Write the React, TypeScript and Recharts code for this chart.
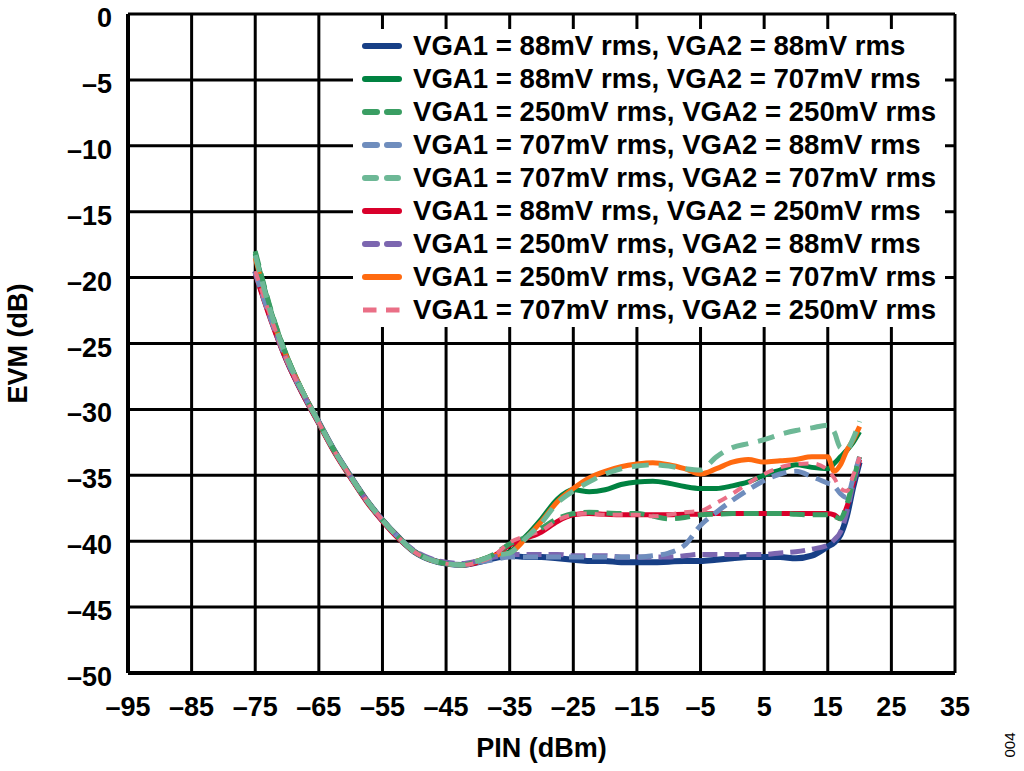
import React from "react";
import { CartesianGrid, Legend, Line, LineChart, XAxis, YAxis } from "recharts";

// PIN (dBm) sample points shared by every curve
const pin = [
  -75, -72.5, -70, -67.5, -65, -62.5, -60, -57.5, -55, -52.5, -50, -47.5, -45, -42.5, -40, -37.5,
  -35, -32.5, -30, -27.5, -25, -22.5, -20, -17.5, -15, -12.5, -10, -7.5, -5, -2.5, 0, 2.5, 5, 7.5,
  10, 12.5, 15, 16, 17, 18, 19, 20,
];

// EVM (dB)
const evm88_88 = [
  -19.5, -23.1, -26.3, -28.8, -31.0, -33.2, -35.1, -36.9, -38.4, -39.7, -40.8, -41.4, -41.7, -41.8, -41.6, -41.3,
  -41.1, -41.2, -41.2, -41.3, -41.4, -41.5, -41.5, -41.6, -41.6, -41.6, -41.55, -41.5, -41.5, -41.4, -41.3, -41.2, -41.2, -41.2,
  -41.3, -41.1, -40.4, -40.1, -39.5, -38.1, -35.9, -34.0,
];
const evm88_707 = [
  -18.2, -22.6, -26.0, -28.7, -31.0, -33.2, -35.1, -36.9, -38.4, -39.7, -40.8, -41.4, -41.7, -41.8, -41.5, -41.1,
  -40.8, -39.65, -38.3, -36.8, -36.1, -36.25, -36.1, -35.7, -35.5, -35.45, -35.6, -35.85, -36.0, -36.0, -35.8, -35.5, -35.0, -34.6,
  -34.2, -34.4, -34.5, -34.1, -33.6, -33.1, -32.5, -31.7,
];
const evm250_250 = [
  -18.0, -22.5, -26.0, -28.7, -31.0, -33.2, -35.1, -36.9, -38.4, -39.7, -40.8, -41.4, -41.7, -41.8, -41.5, -41.0,
  -40.2, -39.7, -39.0, -38.3, -37.9, -37.8, -37.85, -37.9, -37.9, -38.1, -38.3, -38.2, -38.0, -37.95, -37.9, -37.9, -37.9, -37.9,
  -37.95, -38.0, -38.0, -38.1, -38.3, -37.2, -35.4, -33.6,
];
const evm707_88 = [
  -19.6, -23.2, -26.3, -28.8, -31.0, -33.2, -35.1, -36.9, -38.4, -39.7, -40.8, -41.4, -41.7, -41.8, -41.6, -41.4,
  -41.2, -41.2, -41.2, -41.2, -41.2, -41.2, -41.2, -41.2, -41.2, -41.1, -40.9, -40.3, -38.8, -37.8, -36.9, -36.1, -35.4, -34.9,
  -34.7, -35.1, -35.6, -35.8, -36.4, -36.7, -35.2, -33.6,
];
const evm707_707 = [
  -18.3, -22.7, -26.1, -28.7, -31.0, -33.2, -35.1, -36.9, -38.4, -39.7, -40.8, -41.4, -41.7, -41.8, -41.5, -41.1,
  -40.9, -39.8, -38.6, -37.1, -36.2, -35.5, -34.9, -34.5, -34.3, -34.2, -34.3, -34.5, -34.6, -33.6, -32.9, -32.6, -32.3, -31.9,
  -31.6, -31.4, -31.2, -31.7, -32.9, -33.0, -32.2, -30.9,
];
const evm88_250 = [
  -19.7, -23.3, -26.4, -28.9, -31.1, -33.3, -35.2, -37.0, -38.5, -39.8, -40.8, -41.4, -41.7, -41.8, -41.6, -41.1,
  -40.3, -39.8, -39.3, -38.5, -38.0, -37.9, -37.95, -38.0, -38.0, -38.0, -38.0, -37.95, -37.95, -37.9, -37.9, -37.9, -37.9, -37.9,
  -37.9, -37.9, -37.9, -38.0, -38.3, -37.4, -35.6, -33.8,
];
const evm250_88 = [
  -19.6, -23.2, -26.3, -28.8, -31.0, -33.2, -35.1, -36.9, -38.4, -39.7, -40.7, -41.3, -41.6, -41.7, -41.5, -41.2,
  -41.0, -41.0, -41.0, -41.0, -41.1, -41.1, -41.1, -41.2, -41.2, -41.2, -41.2, -41.1, -41.0, -41.0, -41.0, -41.0, -41.0, -40.9,
  -40.8, -40.6, -40.3, -39.9, -39.3, -37.8, -35.6, -33.8,
];
const evm250_707 = [
  -18.5, -22.8, -26.1, -28.7, -31.0, -33.2, -35.1, -36.9, -38.4, -39.7, -40.8, -41.4, -41.7, -41.8, -41.5, -41.1,
  -40.9, -39.8, -38.5, -37.0, -36.0, -35.2, -34.7, -34.35, -34.15, -34.05, -34.2, -34.5, -34.9, -34.5, -34.0, -33.8, -34.0, -33.9,
  -33.8, -33.6, -33.6, -34.7, -34.2, -33.1, -32.3, -31.3,
];
const evm707_250 = [
  -19.5, -23.1, -26.3, -28.8, -31.0, -33.2, -35.1, -36.9, -38.4, -39.7, -40.8, -41.4, -41.7, -41.8, -41.6, -41.1,
  -40.1, -39.6, -39.2, -38.4, -38.0, -37.9, -38.0, -38.0, -38.0, -38.1, -38.0, -37.8, -37.7, -37.1, -36.4, -35.6, -34.9, -34.4,
  -34.15, -34.1, -34.6, -35.2, -36.0, -36.2, -35.0, -33.6,
];

const xTicks = [-95, -85, -75, -65, -55, -45, -35, -25, -15, -5, 5, 15, 25, 35];
const yTicks = [0, -5, -10, -15, -20, -25, -30, -35, -40, -45, -50];

type Series = { key: string; label: string; color: string; width: number; dash?: string; legendDash?: string; cap?: "round" | "butt" };

// legend order
const series: Series[] = [
  { key: "a", label: "VGA1 = 88mV rms, VGA2 = 88mV rms", color: "#173f86", width: 6 },
  { key: "b", label: "VGA1 = 88mV rms, VGA2 = 707mV rms", color: "#008241", width: 5 },
  { key: "c", label: "VGA1 = 250mV rms, VGA2 = 250mV rms", color: "#3a9e63", width: 5, dash: "15 8", legendDash: "12 10" },
  { key: "d", label: "VGA1 = 707mV rms, VGA2 = 88mV rms", color: "#6f8dbd", width: 5, dash: "15 8", legendDash: "12 10" },
  { key: "e", label: "VGA1 = 707mV rms, VGA2 = 707mV rms", color: "#6db896", width: 5, dash: "17 10", legendDash: "11 11" },
  { key: "f", label: "VGA1 = 88mV rms, VGA2 = 250mV rms", color: "#d9002b", width: 5 },
  { key: "g", label: "VGA1 = 250mV rms, VGA2 = 88mV rms", color: "#7c66b0", width: 5, dash: "15 7", legendDash: "12 10" },
  { key: "h", label: "VGA1 = 250mV rms, VGA2 = 707mV rms", color: "#ff6a10", width: 5 },
  { key: "i", label: "VGA1 = 707mV rms, VGA2 = 250mV rms", color: "#ea6f86", width: 4, dash: "10 8", legendDash: "13.5 9.5", cap: "butt" },
];
const values: Record<string, number[]> = {
  a: evm88_88, b: evm88_707, c: evm250_250, d: evm707_88, e: evm707_707,
  f: evm88_250, g: evm250_88, h: evm250_707, i: evm707_250,
};
// drawing order, bottom to top
const drawOrder = ["a", "b", "f", "h", "g", "d", "c", "i", "e"];

const rows = pin.map((x, i) => {
  const row: Record<string, number> = { x };
  series.forEach((s) => { row[s.key] = values[s.key][i]; });
  return row;
});

const fmt = (v: number) => (v < 0 ? `\u2013${Math.abs(v)}` : String(v));
const FONT = "'Liberation Sans', Arial, Helvetica, sans-serif";

function XTick(props: any) {
  const { x, y, payload } = props;
  return <text x={x} y={y + 43} textAnchor="middle" fontSize={27} fontWeight="bold" fill="#000" fontFamily={FONT}>{fmt(payload.value)}</text>;
}
function YTick(props: any) {
  const { x, y, payload } = props;
  return <text x={x} y={y + 13} textAnchor="end" fontSize={27} fontWeight="bold" fill="#000" fontFamily={FONT}>{fmt(payload.value)}</text>;
}
function XTitle(props: any) {
  const vb = props.viewBox ?? {};
  return <text x={vb.x + vb.width / 2} y={757} textAnchor="middle" fontSize={27} fontWeight="bold" fill="#000" fontFamily={FONT}>PIN (dBm)</text>;
}
function YTitle(props: any) {
  const vb = props.viewBox ?? {};
  const cy = vb.y + vb.height / 2;
  return <text x={27} y={cy} transform={`rotate(-90 27 ${cy})`} textAnchor="middle" fontSize={27} fontWeight="bold" fill="#000" fontFamily={FONT}>EVM (dB)</text>;
}

function LegendBox() {
  return (
    <div style={{ width: 592, height: 298, background: "#fff", paddingTop: 0 }}>
      {series.map((s) => (
        <div key={s.key} style={{ height: 33, display: "flex", alignItems: "center", whiteSpace: "nowrap" }}>
          <svg width={54} height={12} style={{ marginLeft: 6, flex: "none" }}>
            <line
              x1={s.cap === "butt" ? 4 : 6} x2={s.cap === "butt" ? 43 : 40} y1={6} y2={6}
              stroke={s.color} strokeWidth={s.cap === "butt" ? 5 : 6}
              strokeLinecap={s.cap ?? "round"} strokeDasharray={s.legendDash}
            />
          </svg>
          <span style={{ marginLeft: 0, fontSize: 27.6, fontWeight: "bold", fontFamily: FONT, color: "#000", lineHeight: "33px" }}>{s.label}</span>
        </div>
      ))}
    </div>
  );
}

export default function App() {
  return (
    <div style={{ position: "absolute", left: 0, top: 0, width: 1024, height: 771, background: "#fff", fontFamily: FONT }}>
      <LineChart width={1024} height={771} data={rows} margin={{ top: 14, right: 69, bottom: 0, left: 0 }}>
        <CartesianGrid stroke="#000" strokeWidth={3} />
        <XAxis
          dataKey="x" type="number" domain={[-95, 35]} ticks={xTicks} height={98}
          axisLine={{ stroke: "#000", strokeWidth: 4 }} tickLine={false} tickSize={0} tickMargin={0}
          tick={<XTick />} label={<XTitle />} interval={0}
        />
        <YAxis
          type="number" domain={[-50, 0]} ticks={yTicks} width={128}
          axisLine={{ stroke: "#000", strokeWidth: 4 }} tickLine={false} tickSize={0} tickMargin={16}
          tick={<YTick />} label={<YTitle />} interval={0}
        />
        <Legend
          layout="vertical" align="center" verticalAlign="middle"
          content={<LegendBox />}
          wrapperStyle={{ position: "absolute", left: 353, top: 29, width: 592, height: 298 }}
        />
        {drawOrder.map((k) => {
          const s = series.find((q) => q.key === k)!;
          return (
            <Line
              key={s.key} dataKey={s.key} type="monotone" stroke={s.color} strokeWidth={s.width}
              strokeDasharray={s.dash} dot={false} activeDot={false} isAnimationActive={false} legendType="none"
            />
          );
        })}
      </LineChart>
      <svg width={30} height={60} style={{ position: "absolute", left: 995, top: 715 }}>
        <text x={20} y={30} transform="rotate(-90 20 30)" textAnchor="middle" fontSize={15} fill="#000" fontFamily={FONT}>004</text>
      </svg>
    </div>
  );
}
